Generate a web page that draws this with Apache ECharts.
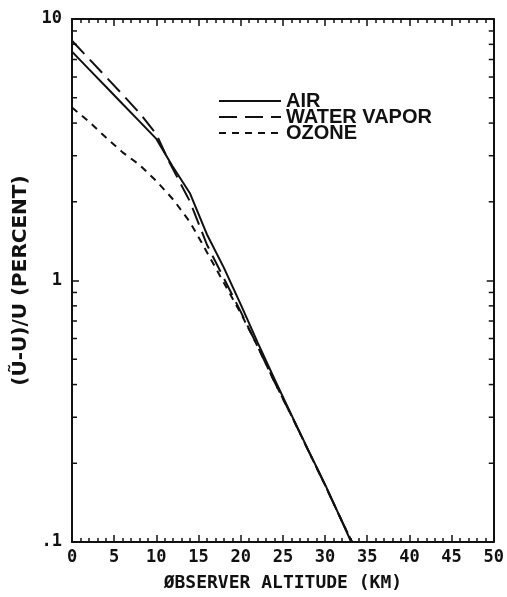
<!DOCTYPE html>
<html>
<head>
<meta charset="utf-8">
<script src="https://cdn.jsdelivr.net/npm/echarts@6/dist/echarts.min.js"></script>
<style>
    html, body { margin: 0; padding: 0; background: #fff; }
    #chart { width: 507px; height: 597px; }
</style>
</head>
<body>
<div id="chart"></div>
<script>
// values (altitude in km, error in percent)
var airAlt = [0, 2, 4, 6, 8, 10, 11.9, 14, 16, 18, 20, 22, 24, 26, 28, 30, 32, 33.1];
var airVal = [7.5, 6.43, 5.52, 4.73, 4.06, 3.48, 2.74, 2.15, 1.5, 1.12, 0.81, 0.58, 0.42, 0.307, 0.225, 0.166, 0.12, 0.1];

var vapAlt = [0, 2, 4, 6, 8, 10, 11.5, 14, 16, 18, 20, 22, 24, 26, 28, 30, 32, 33.2];
var vapVal = [8.26, 7.05, 6.02, 5.14, 4.37, 3.63, 2.85, 2.0, 1.37, 1.02, 0.76, 0.56, 0.41, 0.305, 0.224, 0.165, 0.12, 0.1];

var ozoAlt = [0, 2, 4, 6, 8, 10, 12, 14, 15.4, 18, 20, 22, 24, 26, 28, 30, 32, 33.2];
var ozoVal = [4.59, 4.05, 3.53, 3.09, 2.77, 2.4, 2.04, 1.67, 1.39, 0.98, 0.75, 0.56, 0.41, 0.305, 0.224, 0.165, 0.12, 0.1];

var legendNames = ['AIR', 'WATER VAPOR', 'OZONE'];
var yTickLabels = { '0.1': '.1', '1': '1', '10': '10' };

function pairs(xs, ys) {
    var out = [];
    for (var i = 0; i < xs.length; i++) out.push([xs[i], ys[i]]);
    return out;
}

// log minor ticks 2..9 in each decade
var minorY = [];
[0.1, 1].forEach(function (d) {
    for (var k = 2; k <= 9; k++) minorY.push([0, +(k * d).toFixed(2)]);
});

var ink = '#111';
var mono = '"DejaVu Sans Mono", monospace';

var chart = echarts.init(document.getElementById('chart'));

function xAxisBase(pos) {
    return {
        type: 'value', position: pos, min: 0, max: 50, interval: 5,
        axisLine: { show: true, onZero: false, lineStyle: { color: ink, width: 2 } },
        axisTick: { show: true, inside: true, length: 7, lineStyle: { color: ink, width: 1.5 } },
        minorTick: { show: true, splitNumber: 5, length: 4, lineStyle: { color: ink, width: 1.5 } },
        splitLine: { show: false }
    };
}
function yAxisBase(pos) {
    return {
        type: 'log', logBase: 10, position: pos, min: 0.1, max: 10,
        axisLine: { show: true, onZero: false, lineStyle: { color: ink, width: 2 } },
        axisTick: { show: true, inside: true, length: 7, lineStyle: { color: ink, width: 1.5 } },
        splitLine: { show: false }
    };
}

var xBottom = xAxisBase('bottom');
xBottom.axisLabel = { color: ink, fontFamily: mono, fontSize: 17, fontWeight: 'bold', margin: 7 };
xBottom.name = 'ØBSERVER ALTITUDE (KM)';
xBottom.nameLocation = 'middle';
xBottom.nameGap = 32;
xBottom.nameTextStyle = { color: ink, fontFamily: mono, fontSize: 18, fontWeight: 'bold' };

var xTop = xAxisBase('top');
xTop.axisLabel = { show: false };

var yLeft = yAxisBase('left');
yLeft.axisLabel = {
    color: ink, fontFamily: mono, fontSize: 17, fontWeight: 'bold', margin: 10,
    formatter: function (v) { return yTickLabels[String(v)] || ''; }
};
yLeft.name = '(Ũ-U)/U (PERCENT)';
yLeft.nameLocation = 'middle';
yLeft.nameGap = 40;
yLeft.nameRotate = 90;
yLeft.nameTextStyle = { color: ink, fontFamily: '"DejaVu Sans", sans-serif', fontSize: 20, fontWeight: 'bold' };

var yRight = yAxisBase('right');
yRight.axisLabel = { show: false };

function lineSeries(name, data, dash) {
    return {
        name: name, type: 'line', data: data,
        xAxisIndex: 0, yAxisIndex: 0,
        symbol: 'none', showSymbol: false, smooth: false, animation: false,
        lineStyle: { color: ink, width: 2, type: dash },
        itemStyle: { color: ink }
    };
}

var option = {
    animation: false,
    backgroundColor: '#fff',
    grid: { left: 72, right: 10, top: 19, bottom: 51, containLabel: false },
    legend: {
        data: legendNames,
        orient: 'vertical',
        left: 213, top: 86,
        itemWidth: 62, itemHeight: 14, itemGap: -4,
        selectedMode: false,
        itemStyle: { opacity: 0 },
        textStyle: { color: ink, fontFamily: '"Liberation Sans", Arial, sans-serif', fontSize: 20, fontWeight: 'bold' }
    },
    xAxis: [xBottom, xTop],
    yAxis: [yLeft, yRight],
    series: [
        lineSeries('AIR', pairs(airAlt, airVal), 'solid'),
        lineSeries('WATER VAPOR', pairs(vapAlt, vapVal), [18, 8]),
        lineSeries('OZONE', pairs(ozoAlt, ozoVal), [7, 6]),
        {
            type: 'custom', silent: true, clip: false,
            xAxisIndex: 0, yAxisIndex: 0,
            data: minorY,
            renderItem: function (params, api) {
                var v = api.value(1);
                var p = api.coord([0, v]);
                var q = api.coord([50, v]);
                var st = { stroke: ink, lineWidth: 1.5 };
                return {
                    type: 'group',
                    children: [
                        { type: 'line', shape: { x1: p[0], y1: p[1], x2: p[0] + 5, y2: p[1] }, style: st },
                        { type: 'line', shape: { x1: q[0] - 5, y1: q[1], x2: q[0], y2: q[1] }, style: st }
                    ]
                };
            }
        }
    ]
};
chart.setOption(option);
</script>
</body>
</html>
